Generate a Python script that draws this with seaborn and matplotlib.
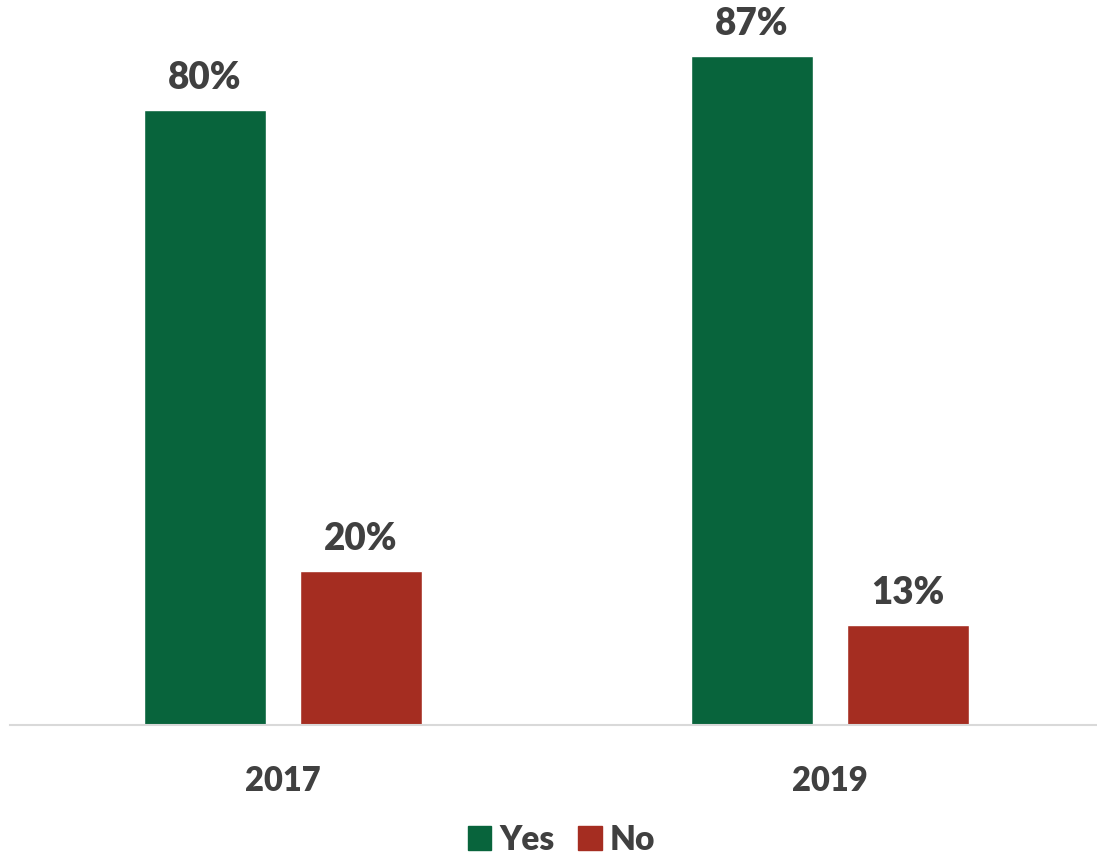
import pandas as pd
import matplotlib.pyplot as plt
import seaborn as sns

years = ["2017", "2019"]
yes_pct = [80, 87]
no_pct = [20, 13]
answers = ["Yes", "No"]
colors = ["#08643C", "#A52D21"]

df = pd.DataFrame({
    "year": years * 2,
    "answer": ["Yes"] * 2 + ["No"] * 2,
    "pct": yes_pct + no_pct,
})

sns.set_style("white")
plt.rcParams["font.family"] = ["Lato", "DejaVu Sans"]
text_color = "#404040"

fig = plt.figure(figsize=(10.97, 8.6), dpi=100)
ax = fig.add_axes([10 / 1097, 1 - 725 / 860, 1 - 10 / 1097, 725 / 860])

sns.barplot(data=df, x="year", y="pct", hue="answer", hue_order=answers,
            palette=colors, width=0.57, gap=0.22, saturation=1, ax=ax, legend=True)

for cont in ax.containers:
    ax.bar_label(cont, fmt="%d%%", padding=11, fontsize=26.5, fontweight="heavy",
                 color=text_color)

ax.set_ylim(0, 94.3)
ax.set_xlim(-0.499, 1.488)
ax.set_yticks([])
ax.set_xlabel("")
ax.set_ylabel("")
ax.tick_params(axis="x", length=0, pad=29, labelsize=23.5, labelcolor=text_color)
for lab in ax.get_xticklabels():
    lab.set_fontweight("heavy")
for side in ["top", "right", "left"]:
    ax.spines[side].set_visible(False)
ax.spines["bottom"].set_color("#D9D9D9")
ax.spines["bottom"].set_linewidth(1.5)

ax.legend_.remove()
handles = [plt.Rectangle((0, 0), 1, 1, color=c) for c in colors]
fig.legend(handles, answers, loc="lower center", bbox_to_anchor=(0.512, -0.03),
           ncol=2, frameon=False, handlelength=0.7, handleheight=0.7,
           handletextpad=0.25, columnspacing=0.7,
           prop={"size": 24, "weight": "heavy"}, labelcolor=text_color)

fig.savefig("out.png", dpi=100)
